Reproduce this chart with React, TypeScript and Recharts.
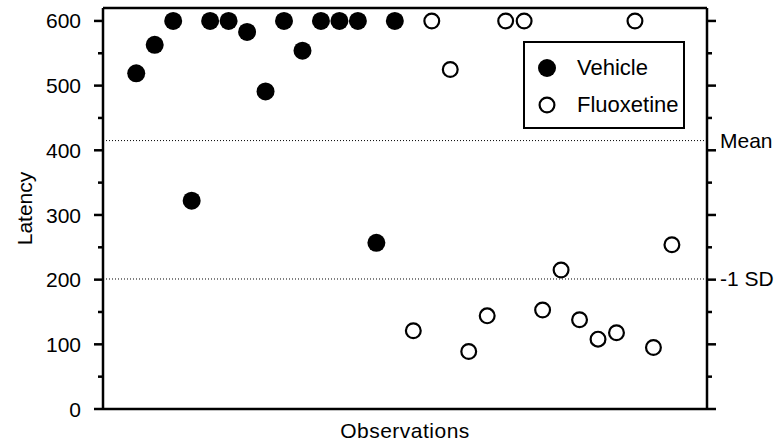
import React from 'react';
import { ScatterChart, Scatter, XAxis, YAxis, ReferenceLine, Legend } from 'recharts';

// observation number (x) and latency (y) per group
const vehicleObservations = [1, 2, 3, 4, 5, 6, 7, 8, 9, 10, 11, 12, 13, 14, 15];
const vehicleLatency = [519, 563, 600, 322, 600, 600, 583, 491, 600, 554, 600, 600, 600, 257, 600];
const fluoxetineObservations = [16, 17, 18, 19, 20, 21, 22, 23, 24, 25, 26, 27, 28, 29, 30];
const fluoxetineLatency = [121, 600, 525, 89, 144, 600, 600, 153, 215, 138, 108, 118, 600, 95, 254];

const latencyTicks = [0, 50, 100, 150, 200, 250, 300, 350, 400, 450, 500, 550, 600];
const meanLatency = 415;
const minusOneSdLatency = 201;
const latencyMax = 620;
const observationDomain = [-0.8, 31.9];

const vehicleData = vehicleObservations.map((obs, i) => ({ obs, latency: vehicleLatency[i] }));
const fluoxetineData = fluoxetineObservations.map((obs, i) => ({ obs, latency: fluoxetineLatency[i] }));

const FONT = '"Liberation Sans", Arial, sans-serif';

const markerStyles: Record<string, { fill: string; stroke: string; r: number; sw: number }> = {
  Vehicle: { fill: '#000', stroke: 'none', r: 9, sw: 0 },
  Fluoxetine: { fill: '#fff', stroke: '#000', r: 7.4, sw: 2.2 },
};

const LeftTick = ({ x, y, payload }: any) => {
  const major = payload.value % 100 === 0;
  return (
    <g>
      <line x1={x - (major ? 9 : 5)} x2={x} y1={y} y2={y} stroke="#000" strokeWidth={2.5} />
      {major && (
        <text x={x - 22} y={y} dy="0.36em" textAnchor="end" fontSize={21} fontFamily={FONT} fill="#000">
          {payload.value}
        </text>
      )}
    </g>
  );
};

const RightTick = ({ x, y, payload }: any) => {
  const major = payload.value % 100 === 0;
  return <line x1={x} x2={x + (major ? 9 : 5)} y1={y} y2={y} stroke="#000" strokeWidth={2.5} />;
};

const renderLegend = ({ payload }: any) => {
  const items = [...(payload || [])].sort(
    (a: any, b: any) => Object.keys(markerStyles).indexOf(a.value) - Object.keys(markerStyles).indexOf(b.value)
  );
  return (
    <div
      style={{
        boxSizing: 'border-box',
        width: 162,
        height: 88,
        border: '2px solid #000',
        background: '#fff',
        paddingTop: 6.5,
      }}
    >
      {items.map((entry: any) => {
        const m = markerStyles[entry.value];
        return (
          <div key={entry.value} style={{ display: 'flex', alignItems: 'center', height: 37 }}>
            <svg width={20} height={20} style={{ marginLeft: 12 }}>
              <circle cx={10} cy={10} r={m.r} fill={m.fill} stroke={m.stroke} strokeWidth={m.sw} />
            </svg>
            <span style={{ marginLeft: 20, fontFamily: FONT, fontSize: 22, color: '#000' }}>{entry.value}</span>
          </div>
        );
      })}
    </div>
  );
};

const dot = (name: string) => (p: any) => {
  const m = markerStyles[name];
  return <circle cx={p.cx} cy={p.cy} r={m.r} fill={m.fill} stroke={m.stroke} strokeWidth={m.sw} />;
};

export default function App() {
  return (
    <div style={{ width: 783, height: 442, position: 'relative', background: '#fff' }}>
      <style>{'body{margin:0}'}</style>
      <ScatterChart width={783} height={442} margin={{ top: 8, right: 0, bottom: 3, left: 0 }}>
        <XAxis
          type="number"
          dataKey="obs"
          domain={observationDomain}
          allowDataOverflow
          height={30}
          tick={false}
          tickLine={false}
          axisLine={{ stroke: '#000', strokeWidth: 2.5 }}
          label={{
            value: 'Observations',
            position: 'insideBottom',
            offset: 1,
            fill: '#000',
            fontSize: 21,
            fontFamily: FONT,
            letterSpacing: 0.5,
          }}
        />
        <YAxis
          type="number"
          dataKey="latency"
          width={103}
          domain={[0, latencyMax]}
          allowDataOverflow
          ticks={latencyTicks}
          interval={0}
          tickSize={0}
          tickMargin={0}
          tickLine={false}
          tick={<LeftTick />}
          axisLine={{ stroke: '#000', strokeWidth: 2.5 }}
          label={{
            value: 'Latency',
            angle: -90,
            position: 'insideLeft',
            offset: 25,
            fill: '#000',
            fontSize: 21,
            fontFamily: FONT,
            style: { textAnchor: 'middle' },
          }}
        />
        <YAxis
          yAxisId="right"
          orientation="right"
          type="number"
          width={76}
          domain={[0, latencyMax]}
          allowDataOverflow
          ticks={latencyTicks}
          interval={0}
          tickSize={0}
          tickMargin={0}
          tickLine={false}
          tick={<RightTick />}
          axisLine={{ stroke: '#000', strokeWidth: 2.5 }}
        />
        <ReferenceLine y={latencyMax} stroke="#000" strokeWidth={2.5} />
        <ReferenceLine
          yAxisId="right"
          y={meanLatency}
          stroke="#000"
          strokeWidth={1}
          strokeDasharray="1 2"
          label={{ value: 'Mean', position: 'right', offset: 13, fill: '#000', fontSize: 21, fontFamily: FONT }}
        />
        <ReferenceLine
          yAxisId="right"
          y={minusOneSdLatency}
          stroke="#000"
          strokeWidth={1}
          strokeDasharray="1 2"
          label={{ value: '-1 SD', position: 'right', offset: 13, fill: '#000', fontSize: 21, fontFamily: FONT }}
        />
        <Scatter name="Vehicle" data={vehicleData} fill="#000" shape={dot('Vehicle')} isAnimationActive={false} />
        <Scatter
          name="Fluoxetine"
          data={fluoxetineData}
          fill="#fff"
          stroke="#000"
          shape={dot('Fluoxetine')}
          isAnimationActive={false}
        />
        <Legend
          layout="vertical"
          align="center"
          verticalAlign="middle"
          wrapperStyle={{ left: 523, top: 41, width: 162, height: 88 }}
          content={renderLegend}
        />
      </ScatterChart>
    </div>
  );
}
